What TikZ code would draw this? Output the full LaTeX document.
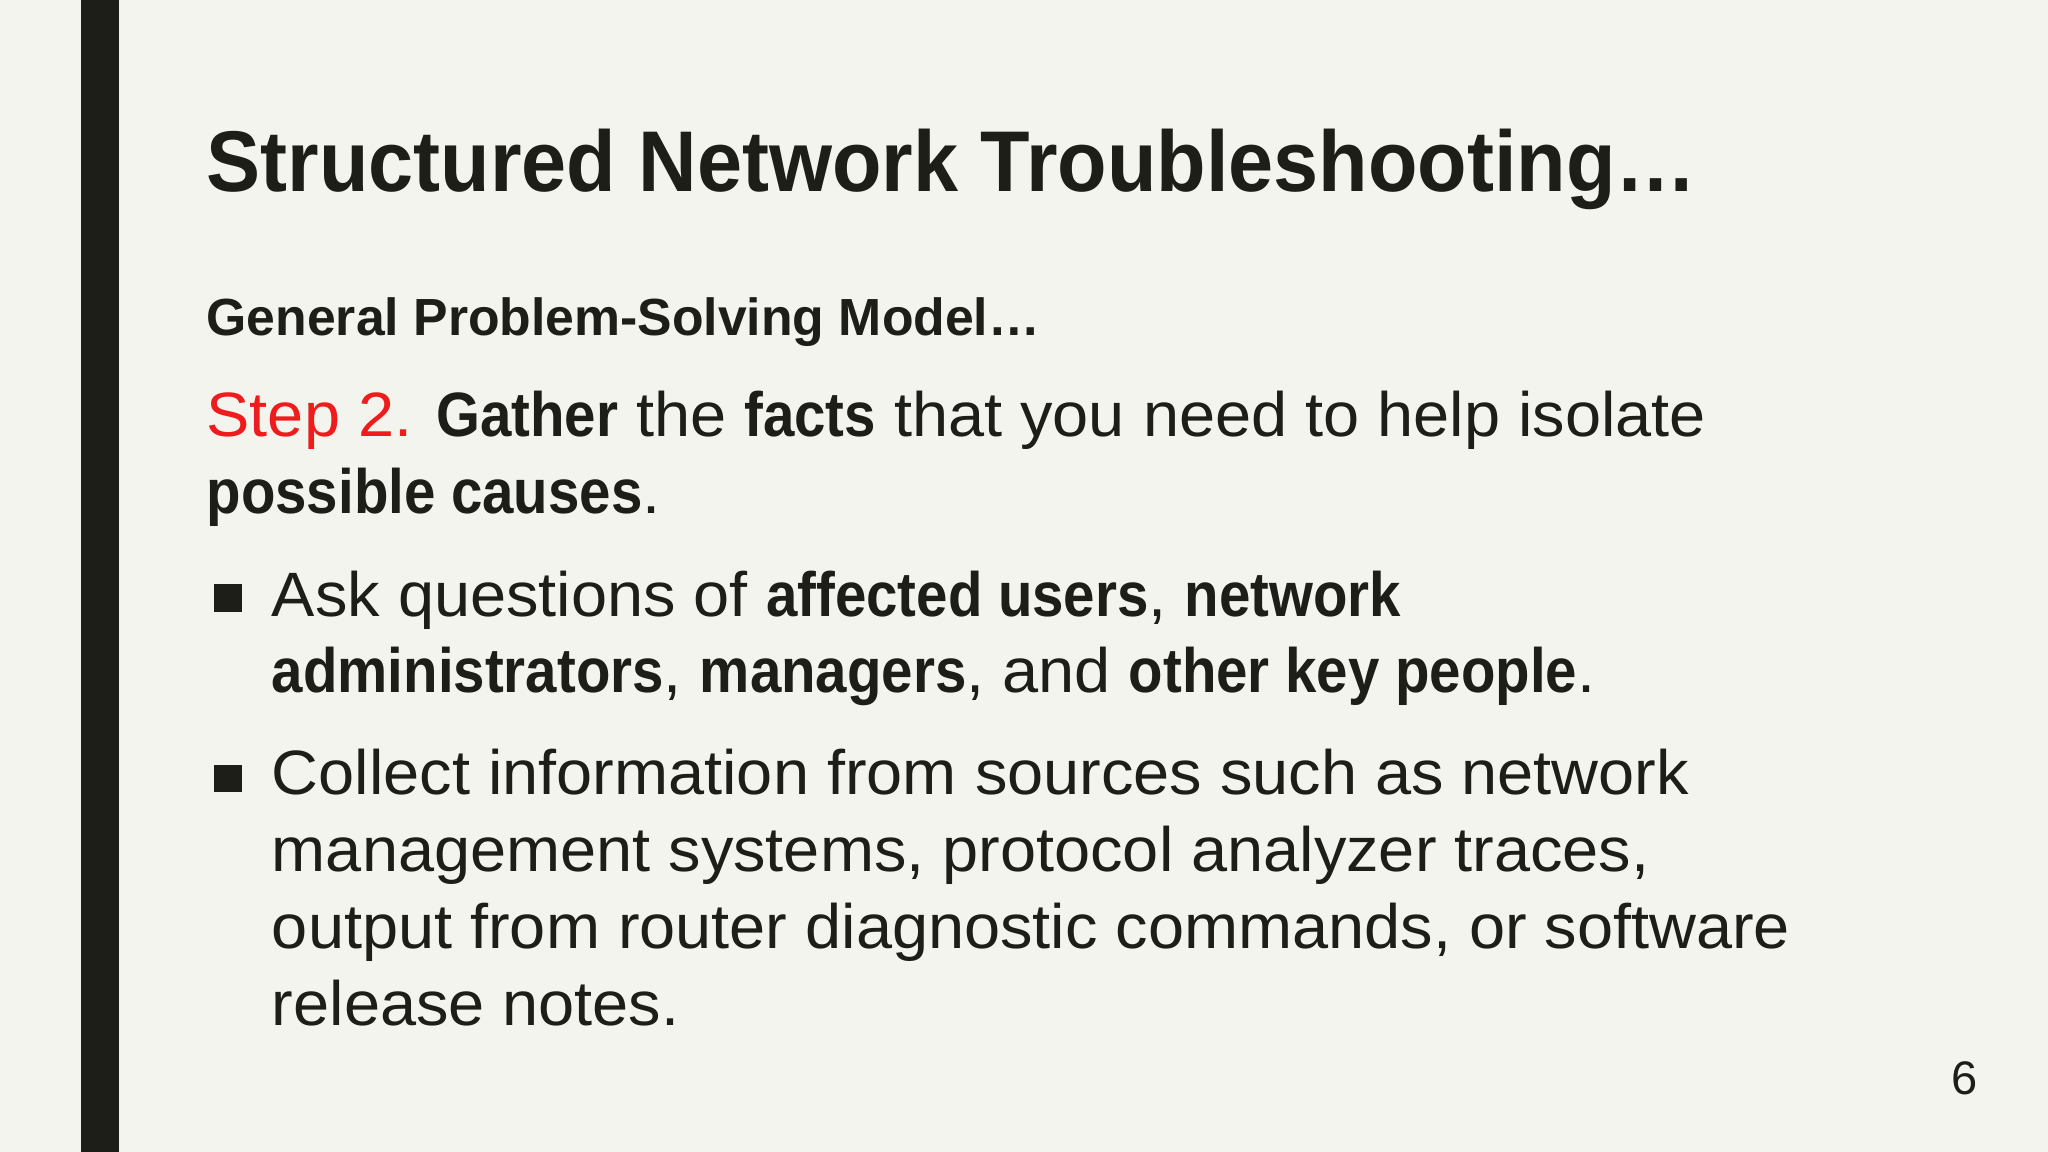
\documentclass[tikz,border=0pt]{standalone}
\usepackage{fontspec}
\setmainfont{Liberation Sans}
\newfontfamily\bodyfont[FakeStretch=1.035,BoldFeatures={FakeStretch=0.9}]{Liberation Sans}
\newfontfamily\titlefont[FakeStretch=0.94]{Liberation Sans Bold}
\newfontfamily\subfont[FakeStretch=0.99]{Liberation Sans Bold}
\definecolor{bg}{HTML}{F4F4EF}
\definecolor{bar}{HTML}{1E1E18}
\definecolor{txt}{HTML}{1E1E18}
\definecolor{stepred}{HTML}{EE1C1C}
\begin{document}
\begin{tikzpicture}[x=1pt,y=-1pt,
  line/.style={anchor=base west,inner sep=0pt,text=txt,font=\bodyfont\fontsize{48}{52}\selectfont},
  sq/.style={fill=txt,minimum size=21pt,inner sep=0pt}]
\useasboundingbox (0,0) rectangle (1568,882);
\fill[bg] (0,0) rectangle (1568,882);
\fill[bar] (62,0) rectangle (91,882);
\node[line,font=\titlefont\fontsize{66}{70}\selectfont] (title) at (158,147) {Structured Network Troubleshooting…};
\node[line,font=\subfont\fontsize{40}{44}\selectfont] (sub) at (158,257) {General Problem-Solving Model…};
\node[line] (s1) at (158,334) {\textcolor{stepred}{Step 2.} \textbf{Gather} the \textbf{facts} that you need to help isolate};
\node[line] (s2) at (158,393) {\textbf{possible causes}.};
\node[sq] (b1) at (174.5,458) {};
\node[line] (a1) at (208,472) {Ask questions of \textbf{affected users}, \textbf{network}};
\node[line] (a2) at (208,530) {\textbf{administrators}, \textbf{managers}, and \textbf{other key people}.};
\node[sq] (b2) at (174.5,596) {};
\node[line] (c1) at (208,608) {Collect information from sources such as network};
\node[line] (c2) at (208,667) {management systems, protocol analyzer traces,};
\node[line] (c3) at (208,726) {output from router diagnostic commands, or software};
\node[line] (c4) at (208,785) {release notes.};
\node[line,anchor=base east,font=\fontsize{36}{40}\selectfont] (pg) at (1514,838) {6};
\end{tikzpicture}
\end{document}
